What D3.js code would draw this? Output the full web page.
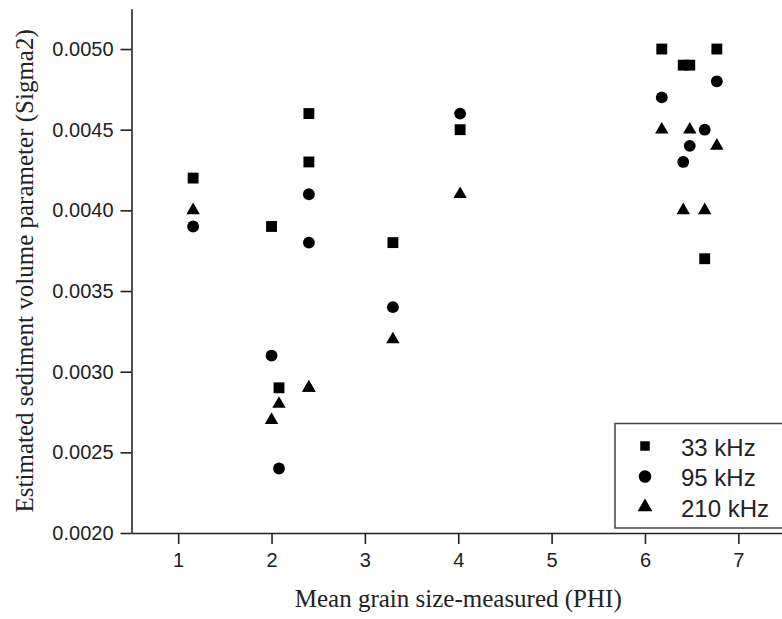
<!DOCTYPE html>
<html>
<head>
<meta charset="utf-8">
<script src="https://cdn.jsdelivr.net/npm/d3@7"></script>
<style>
  body { margin: 0; background: #fff; }
  .tick text { font-family: "Liberation Sans", Arial, sans-serif; font-size: 20px; fill: #222; }
  .title { font-family: "Liberation Serif", "Times New Roman", serif; font-size: 25px; fill: #222; }
  .legend text { font-family: "Liberation Sans", Arial, sans-serif; font-size: 24px; fill: #222; }
</style>
</head>
<body>
<div id="chart"></div>
<script>
// grain size (PHI) of each sample
const phi33 = [1.16, 2.0, 2.08, 2.4, 2.4, 3.3, 4.02, 6.18, 6.41, 6.48, 6.64, 6.77]
const sigma33 = [0.0042, 0.0039, 0.0029, 0.0043, 0.0046, 0.0038, 0.0045, 0.0050, 0.0049, 0.0049, 0.0037, 0.0050]

const phi95 = [1.16, 2.0, 2.08, 2.4, 2.4, 3.3, 4.02, 6.18, 6.41, 6.48, 6.64, 6.77]
const sigma95 = [0.0039, 0.0031, 0.0024, 0.0041, 0.0038, 0.0034, 0.0046, 0.0047, 0.0043, 0.0044, 0.0045, 0.0048]

const phi210 = [1.16, 2.0, 2.08, 2.4, 2.4, 3.3, 4.02, 6.18, 6.41, 6.48, 6.64, 6.77]
const sigma210 = [0.0040, 0.0027, 0.0028, 0.0029, 0.0029, 0.0032, 0.0041, 0.0045, 0.0040, 0.0045, 0.0040, 0.0044]

const seriesNames = ["33 kHz", "95 kHz", "210 kHz"]
const xTicks = [1, 2, 3, 4, 5, 6, 7]
const yTicks = [0.0020, 0.0025, 0.0030, 0.0035, 0.0040, 0.0045, 0.0050]

const width = 782
const height = 619

let svg = d3.select("#chart")
    .append("svg")
    .attr("width", width)
    .attr("height", height)

var x = d3.scaleLinear()
    .domain([0.5, 7.5])
    .range([131.5, 785])

var y = d3.scaleLinear()
    .domain([0.0020, 0.00525])
    .range([533, 8.7])

var xAxis = d3.axisBottom(x)
    .tickValues(xTicks)
    .tickSize(11)
    .tickSizeOuter(0)
    .tickPadding(9)
    .tickFormat(d3.format("d"))

var yAxis = d3.axisLeft(y)
    .tickValues(yTicks)
    .tickSize(11)
    .tickSizeOuter(0)
    .tickPadding(7)
    .tickFormat(d3.format(".4f"))

let gx = svg.append("g")
    .attr("transform", `translate(0,${y.range()[0]})`)
    .call(xAxis)

let gy = svg.append("g")
    .attr("transform", `translate(${x.range()[0]},0)`)
    .call(yAxis)

svg.selectAll(".domain, .tick line")
    .attr("stroke", "#222")
    .attr("stroke-width", 1.6)

// markers
const shapes = [d3.symbolSquare, d3.symbolCircle, d3.symbolTriangle]
const sizes = [118, 110, 78]
const series = [
    phi33.map((p, i) => [p, sigma33[i]]),
    phi95.map((p, i) => [p, sigma95[i]]),
    phi210.map((p, i) => [p, sigma210[i]])
]

series.forEach((pts, s) => {
    svg.append("g")
        .selectAll("path")
        .data(pts)
        .join("path")
        .attr("transform", d => `translate(${x(d[0])},${y(d[1])})`)
        .attr("d", d3.symbol().type(shapes[s]).size(sizes[s]))
        .attr("fill", "#000")
})

// legend
let legend = svg.append("g").attr("class", "legend")
legend.append("rect")
    .attr("x", 615)
    .attr("y", 423.5)
    .attr("width", 200)
    .attr("height", 104.5)
    .attr("fill", "#fff")
    .attr("stroke", "#444")
    .attr("stroke-width", 1.5)

const legendSizes = [90, 125, 95]
seriesNames.forEach((name, i) => {
    let ly = 446 + i * 30.5
    legend.append("path")
        .attr("transform", `translate(645,${ly})`)
        .attr("d", d3.symbol().type(shapes[i]).size(legendSizes[i]))
        .attr("fill", "#000")
    legend.append("text")
        .attr("x", 681)
        .attr("y", ly + 9.5)
        .text(name)
})

// axis titles
svg.append("text")
    .attr("class", "title")
    .attr("x", (x.range()[0] + x.range()[1]) / 2)
    .attr("y", 607)
    .attr("text-anchor", "middle")
    .text("Mean grain size-measured (PHI)")

svg.append("text")
    .attr("class", "title")
    .attr("transform", `translate(33,${(y.range()[0] + y.range()[1]) / 2}) rotate(-90)`)
    .attr("text-anchor", "middle")
    .text("Estimated sediment volume parameter (Sigma2)")
</script>
</body>
</html>
